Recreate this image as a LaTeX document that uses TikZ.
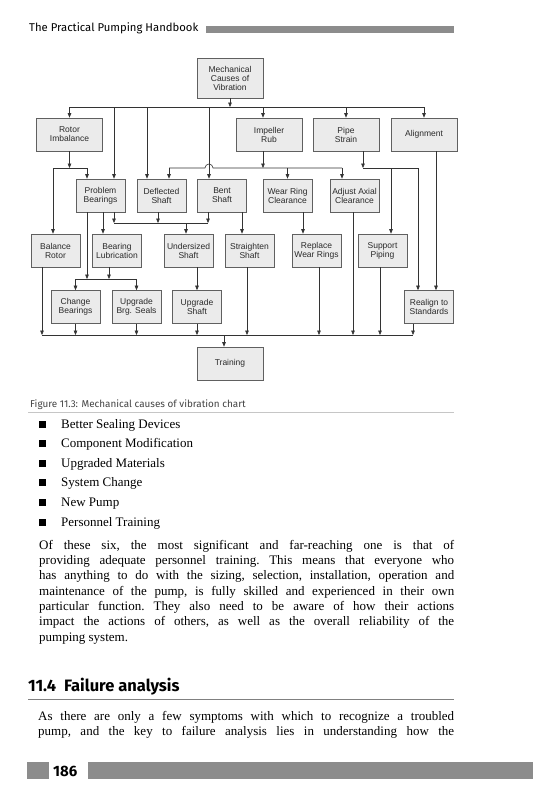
\documentclass[tikz,border=0pt]{standalone}
\usepackage{fontspec}
\setmainfont{Liberation Serif}
\newfontfamily\chartfont{Liberation Sans}
\newfontfamily\headfont{Fira Sans}
\usetikzlibrary{arrows.meta,calc}
\definecolor{boxfill}{HTML}{EBEBEB}
\definecolor{boxline}{HTML}{606060}
\definecolor{linecol}{HTML}{333333}
\definecolor{chtext}{HTML}{2A2A2A}
\definecolor{barcol}{HTML}{8C8C8C}
\definecolor{capcol}{HTML}{444444}
\tikzset{
  box/.style={draw=boxline, fill=boxfill, line width=0.7pt, minimum width=49pt, minimum height=33pt,
    inner sep=1pt, align=center, text=chtext, font=\chartfont\fontsize{8.5}{9}\selectfont},
  wbox/.style={box, minimum width=66pt},
  ln/.style={draw=linecol, line width=0.6pt},
  arr/.style={ln, -{Triangle[length=4.5pt,width=3.6pt]}},
  bodytxt/.style={anchor=base west, inner sep=0pt, font=\frenchspacing\fontsize{13}{15}\selectfont},
}
\begin{document}
\begin{tikzpicture}[x=1pt,y=-1pt]
\useasboundingbox (0,0) rectangle (533,800);
\fill[white] (0,0) rectangle (533,800);

% header
\node[anchor=base west, inner sep=0pt, font=\headfont\fontsize{11.3}{14}\selectfont] (hdr) at (29,32) {The Practical Pumping Handbook};
\fill[barcol] (206,26) rectangle (454,33);

% bus coordinates
\coordinate (busA) at (0,107);
\coordinate (busB) at (0,168);
\coordinate (busC) at (0,223);
\coordinate (busD) at (0,279);
\coordinate (busE) at (0,335);

% nodes
\node[wbox, minimum height=40pt] (mech) at (230,78) {Mechanical\\Causes of\\Vibration};
\node[wbox] (rot) at (69.5,134.5) {Rotor\\Imbalance};
\node[wbox] (imp) at (269,134.5) {Impeller\\Rub};
\node[wbox] (pipe) at (346,134.5) {Pipe\\Strain};
\node[wbox] (alig) at (424,134.5) {Alignment};

\node[box] (pb) at (100.5,195.5) {Problem\\Bearings};
\node[box] (defl) at (161.5,195.5) {Deflected\\Shaft};
\node[box] (bent) at (222,195.5) {Bent\\Shaft};
\node[box] (wr) at (287.5,195.5) {Wear Ring\\Clearance};
\node[box] (adj) at (354.5,195.5) {Adjust Axial\\Clearance};

\node[box] (bal) at (55.5,250.5) {Balance\\Rotor};
\node[box] (bl) at (117,250.5) {Bearing\\Lubrication};
\node[box] (und) at (188.5,250.5) {Undersized\\Shaft};
\node[box] (str) at (249.5,250.5) {Straighten\\Shaft};
\node[box] (rep) at (316.5,250.5) {Replace\\Wear Rings};
\node[box] (sup) at (382.5,250.5) {Support\\Piping};

\node[box] (chg) at (75.5,307) {Change\\Bearings};
\node[box] (ubs) at (136.5,307) {Upgrade\\Brg. Seals};
\node[box] (ush) at (197,307) {Upgrade\\Shaft};
\node[box] (real) at (429,307) {Realign to\\Standards};

\node[wbox] (trn) at (230,363.5) {Training};

% top bus
\draw[ln] (rot.north |- busA) -- (alig.north |- busA);
\draw[arr] (mech.south) -- (mech.south |- busA);
\draw[arr] (rot.north |- busA) -- (rot.north);
\draw[arr] ([xshift=13.5pt]pb.north |- busA) -- ([xshift=13.5pt]pb.north);
\draw[arr] ([xshift=-14.5pt]defl.north |- busA) -- ([xshift=-14.5pt]defl.north);
\draw[arr] ([xshift=-13pt]bent.north |- busA) -- ([xshift=-13pt]bent.north);
\draw[arr] ([xshift=-6pt]imp.north |- busA) -- ([xshift=-6pt]imp.north);
\draw[arr] (pipe.north |- busA) -- (pipe.north);
\draw[arr] (alig.north |- busA) -- (alig.north);

% rotor imbalance branch
\draw[arr] (rot.south) -- (rot.south |- busB);
\draw[ln] ([xshift=-2.5pt]bal.north |- busB) -- ([xshift=-13.5pt]pb.north |- busB);
\draw[arr] ([xshift=-2.5pt]bal.north |- busB) -- ([xshift=-2.5pt]bal.north);
\draw[arr] ([xshift=-13.5pt]pb.north |- busB) -- ([xshift=-13.5pt]pb.north);

% impeller rub branch (with hop)
\draw[arr] ([xshift=-6pt]imp.south) -- ([xshift=-6pt]imp.south |- busB);
\draw[ln] ([xshift=7.5pt]defl.north |- busB) -- ([xshift=-17pt]bent.north |- busB)
   arc[start angle=180, end angle=0, radius=4pt] -- ([xshift=-12.5pt]adj.north |- busB);
\draw[arr] ([xshift=7.5pt]defl.north |- busB) -- ([xshift=7.5pt]defl.north);
\draw[arr] (wr.north |- busB) -- (wr.north);
\draw[arr] ([xshift=-12.5pt]adj.north |- busB) -- ([xshift=-12.5pt]adj.north);

% pipe strain branch
\draw[arr] ([xshift=17pt]pipe.south) -- ([xshift=17pt]pipe.south |- busB);
\draw[arr] ([xshift=17pt]pipe.south |- busB) -- ([xshift=-11pt]real.north |- busB) -- ([xshift=-11pt]real.north);
\draw[arr] ([xshift=8.5pt]sup.north |- busB) -- ([xshift=8.5pt]sup.north);

% alignment
\draw[arr] ([xshift=12pt]alig.south) -- ([xshift=7pt]real.north);

% row 2 outputs
\draw[arr] ([xshift=-13.5pt]pb.south) -- ([xshift=-13.5pt]pb.south |- busD);
\draw[arr] ([xshift=2.5pt]pb.south) -- ([xshift=-14pt]bl.north);
\draw[arr] ([xshift=13.5pt]pb.south) -- ([xshift=13.5pt]pb.south |- busC);
\draw[arr] ([xshift=-3.5pt]defl.south) -- ([xshift=-3.5pt]defl.south |- busC);
\draw[arr] ([xshift=-14pt]bent.south) -- ([xshift=-14pt]bent.south |- busC);
\draw[ln] ([xshift=13.5pt]pb.south |- busC) -- ([xshift=-14pt]bent.south |- busC);
\draw[arr] ([xshift=-2.5pt]und.north |- busC) -- ([xshift=-2.5pt]und.north);
\draw[arr] ([xshift=20pt]bent.south) -- ([xshift=-7.5pt]str.north);
\draw[arr] ([xshift=15.5pt]wr.south) -- ([xshift=-13.5pt]rep.north);
\draw[arr] ([xshift=-1.5pt]adj.south) -- ([xshift=-1.5pt]adj.south |- busE);

% bearing lubrication branch
\draw[arr] ([xshift=-8pt]bl.south) -- ([xshift=-8pt]bl.south |- busD);
\draw[ln] (chg.north |- busD) -- (ubs.north |- busD);
\draw[arr] (chg.north |- busD) -- (chg.north);
\draw[arr] (ubs.north |- busD) -- (ubs.north);
\draw[arr] ([xshift=8.5pt]und.south) -- (ush.north);

% bottom bus
\draw[ln] ([xshift=-13.5pt]bal.south |- busE) -- ([xshift=-16pt]real.south |- busE);
\draw[arr] ([xshift=-13.5pt]bal.south) -- ([xshift=-13.5pt]bal.south |- busE);
\draw[arr] (chg.south) -- (chg.south |- busE);
\draw[arr] (ubs.south) -- (ubs.south |- busE);
\draw[arr] (ush.south) -- (ush.south |- busE);
\draw[arr] ([xshift=-2.5pt]str.south) -- ([xshift=-2.5pt]str.south |- busE);
\draw[arr] ([xshift=2.5pt]rep.south) -- ([xshift=2.5pt]rep.south |- busE);
\draw[arr] ([xshift=-2.5pt]sup.south) -- ([xshift=-2.5pt]sup.south |- busE);
\draw[arr] ([xshift=-16pt]real.south) -- ([xshift=-16pt]real.south |- busE);
\draw[arr] ([xshift=-6pt]trn.north |- busE) -- ([xshift=-6pt]trn.north);

% caption
\node[anchor=base west, inner sep=0pt, text=capcol, font=\headfont\fontsize{9.9}{11}\selectfont] (cap) at (30,407) {Figure 11.3: Mechanical causes of vibration chart};
\draw[gray!45, line width=0.5pt] (28,412) -- (454,412);

% bullets
\foreach \y/\t [count=\i] in {428/Better Sealing Devices, 447.6/Component Modification, 467.2/Upgraded Materials, 486.8/System Change, 506.4/New Pump, 526/Personnel Training}{
  \fill (39,\y-7.5) rectangle (46,\y-0.5);
  \node[bodytxt] (bul\i) at (61,\y) {\t};
}

% paragraph 1
\node[bodytxt] (pa1) at (39,549) {\makebox[415pt][s]{Of these six, the most significant and far-reaching one is that of}};
\node[bodytxt] (pa2) at (39,564.35) {\makebox[415pt][s]{providing adequate personnel training. This means that everyone who}};
\node[bodytxt] (pa3) at (39,579.7) {\makebox[415pt][s]{has anything to do with the sizing, selection, installation, operation and}};
\node[bodytxt] (pa4) at (39,595.05) {\makebox[415pt][s]{maintenance of the pump, is fully skilled and experienced in their own}};
\node[bodytxt] (pa5) at (39,610.4) {\makebox[415pt][s]{particular function. They also need to be aware of how their actions}};
\node[bodytxt] (pa6) at (39,625.75) {\makebox[415pt][s]{impact the actions of others, as well as the overall reliability of the}};
\node[bodytxt] (pa7) at (39,641.1) {pumping system.};

% section heading
\node[anchor=base west, inner sep=0pt, font=\headfont\bfseries\fontsize{16.5}{18}\selectfont] (sec) at (28,691) {11.4\hspace{8pt}Failure analysis};
\draw[gray, line width=0.6pt] (28,699) -- (454,699);

% paragraph 2
\node[bodytxt] (pb1) at (38,720.5) {\makebox[416pt][s]{As there are only a few symptoms with which to recognize a troubled}};
\node[bodytxt] (pb2) at (38,735.85) {\makebox[416pt][s]{pump, and the key to failure analysis lies in understanding how the}};

% footer
\fill[barcol] (26.5,761.5) rectangle (49,778.5);
\fill[barcol] (88,761.5) rectangle (533,778.5);
\node[anchor=base west, inner sep=0pt, font=\headfont\bfseries\fontsize{15}{17}\selectfont] (pg) at (53,776) {186};
\end{tikzpicture}
\end{document}
